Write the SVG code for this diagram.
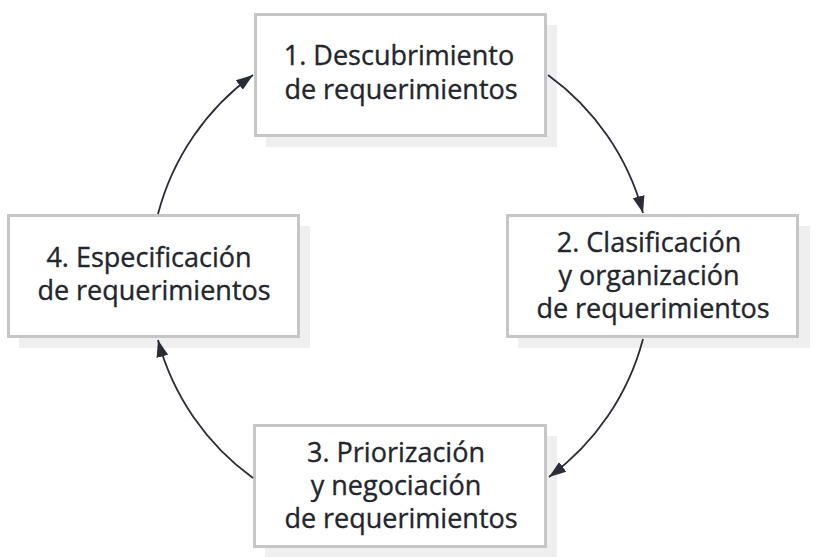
<svg xmlns="http://www.w3.org/2000/svg" width="840" height="557" viewBox="0 0 840 557">
<style>
.shadow{fill:#efefef}
.box{fill:#ffffff;stroke:#c6c6c6;stroke-width:3}
.lbl{font-family:"Open Sans","Liberation Sans",sans-serif;font-size:27px;fill:#24262e;stroke:#24262e;stroke-width:0.35;text-anchor:middle}
.arc{fill:none;stroke:#2a2d35;stroke-width:1.8;marker-end:url(#ah)}
</style>
<defs>
<marker id="ah" markerUnits="userSpaceOnUse" markerWidth="18" markerHeight="14" refX="17" refY="6" orient="auto" viewBox="0 0 18 12">
<path d="M0,0 L17,6 L0,12 Z" fill="#2a2d35"/>
</marker>
</defs>
<rect width="840" height="557" fill="#ffffff"/>
<g id="node1">
<rect class="shadow" x="266" y="25" width="291" height="122"/>
<rect class="box" x="255.5" y="14.5" width="290" height="121"/>
<text class="lbl" x="399" y="65">1. Descubrimiento</text>
<text class="lbl" x="401" y="99">de requerimientos</text>
</g>
<g id="node2">
<rect class="shadow" x="518" y="226" width="292" height="122"/>
<rect class="box" x="507.5" y="215.5" width="290" height="121"/>
<text class="lbl" x="649" y="252">2. Clasificación</text>
<text class="lbl" x="649" y="285">y organización</text>
<text class="lbl" x="653" y="318">de requerimientos</text>
</g>
<g id="node3">
<rect class="shadow" x="265" y="436" width="292" height="122"/>
<rect class="box" x="254.5" y="425.5" width="291" height="121"/>
<text class="lbl" x="396" y="462">3. Priorización</text>
<text class="lbl" x="396" y="495">y negociación</text>
<text class="lbl" x="401" y="528">de requerimientos</text>
</g>
<g id="node4">
<rect class="shadow" x="19" y="226" width="291" height="122"/>
<rect class="box" x="8.5" y="215.5" width="290" height="121"/>
<text class="lbl" x="149" y="267">4. Especificación</text>
<text class="lbl" x="154" y="300">de requerimientos</text>
</g>
<g id="connectors">
<path class="arc" d="M548,75 A250,250 0 0 1 643,213"/>
<path class="arc" d="M643,339 A250,250 0 0 1 549,477"/>
<path class="arc" d="M253,478 A250,250 0 0 1 158,340"/>
<path class="arc" d="M158,214 A250,250 0 0 1 253,75"/>
</g>
</svg>
